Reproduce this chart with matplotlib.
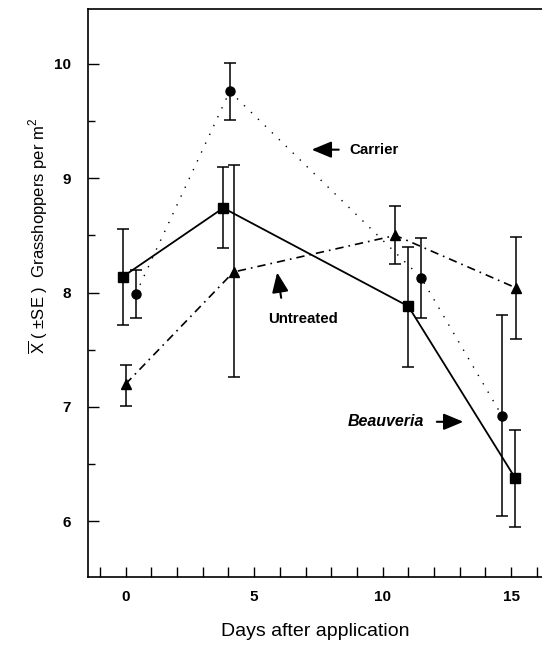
import matplotlib
matplotlib.use("Agg")
import matplotlib.pyplot as plt
from matplotlib.ticker import MultipleLocator

plt.rcParams["font.family"] = ["Liberation Sans", "DejaVu Sans"]
plt.rcParams["mathtext.fontset"] = "custom"
plt.rcParams["mathtext.rm"] = "Liberation Sans"

# Beauveria (squares, solid line)
beau_day = [-0.1, 3.8, 11.0, 15.15]
beau_mean = [8.14, 8.74, 7.88, 6.38]
beau_lo = [7.72, 8.39, 7.35, 5.95]
beau_hi = [8.56, 9.10, 8.40, 6.80]

# Carrier (circles, dotted line)
carr_day = [0.4, 4.05, 11.5, 14.65]
carr_mean = [7.99, 9.76, 8.13, 6.92]
carr_lo = [7.78, 9.51, 7.78, 6.05]
carr_hi = [8.20, 10.01, 8.48, 7.80]

# Untreated (triangles, dashed line)
untr_day = [0.0, 4.2, 10.5, 15.2]
untr_mean = [7.20, 8.18, 8.50, 8.04]
untr_lo = [7.01, 7.26, 8.25, 7.59]
untr_hi = [7.37, 9.12, 8.76, 8.49]


def err(mean, lo, hi):
    return [[m - l for m, l in zip(mean, lo)], [h - m for m, h in zip(mean, hi)]]


fig = plt.figure(figsize=(5.42, 6.45), dpi=100)
ax = fig.add_axes([0.162, 0.105, 0.838, 0.881])

eb_kw = dict(color="black", ecolor="black", elinewidth=1.1, capsize=4,
             capthick=1.1, markersize=6.5)
ax.errorbar(beau_day, beau_mean, yerr=err(beau_mean, beau_lo, beau_hi),
            fmt="s-", lw=1.3, **eb_kw)
ax.errorbar(carr_day, carr_mean, yerr=err(carr_mean, carr_lo, carr_hi),
            fmt="o", **eb_kw)
ax.plot(carr_day, carr_mean, color="black", lw=1.0, ls=(0, (1, 6)))
ax.errorbar(untr_day, untr_mean, yerr=err(untr_mean, untr_lo, untr_hi),
            fmt="^", **eb_kw)
ax.plot(untr_day, untr_mean, color="black", lw=1.2, ls=(0, (5, 3, 1, 3)))

arrow = dict(arrowstyle="-|>,head_length=0.6,head_width=0.25",
             color="black", lw=1.5, mutation_scale=20)
ax.annotate("", xy=(7.13, 9.25), xytext=(8.4, 9.25), arrowprops=arrow)
ax.text(8.69, 9.25, "Carrier", fontsize=10.8, fontweight="bold", va="center")
ax.annotate("", xy=(5.88, 8.2), xytext=(6.07, 7.93), arrowprops=arrow)
ax.text(6.89, 7.77, "Untreated", fontsize=10.8, fontweight="bold",
        ha="center", va="center")
ax.text(10.13, 6.87, "Beauveria", fontsize=11.5, fontweight="bold",
        style="italic", ha="center", va="center")
ax.annotate("", xy=(13.25, 6.87), xytext=(12.0, 6.87), arrowprops=arrow)

ax.set_xlim(-1.47, 16.2)
ax.set_ylim(5.51, 10.48)
ax.xaxis.set_major_locator(MultipleLocator(5))
ax.xaxis.set_minor_locator(MultipleLocator(1))
ax.yaxis.set_major_locator(MultipleLocator(1))
ax.yaxis.set_minor_locator(MultipleLocator(0.5))
ax.tick_params(axis="both", which="both", direction="in", width=1.0)
ax.tick_params(axis="x", which="both", length=7, pad=9)
ax.tick_params(axis="y", which="major", length=8, pad=12)
ax.tick_params(axis="y", which="minor", length=5)
for lab in ax.get_xticklabels() + ax.get_yticklabels():
    lab.set_fontweight("bold")
    lab.set_fontsize(11)
ax.spines["right"].set_visible(False)
for s in ["left", "bottom", "top"]:
    ax.spines[s].set_linewidth(1.2)

ax.set_xlabel("Days after application", fontsize=14)
ax.xaxis.set_label_coords(0.5, -0.08)
ax.set_ylabel(r"$\overline{\mathrm{X}}$ ( ±SE )  Grasshoppers per m$^{2}$",
              fontsize=12)
ax.yaxis.set_label_coords(-0.083, 0.6)

fig.savefig("out.png", dpi=100)
